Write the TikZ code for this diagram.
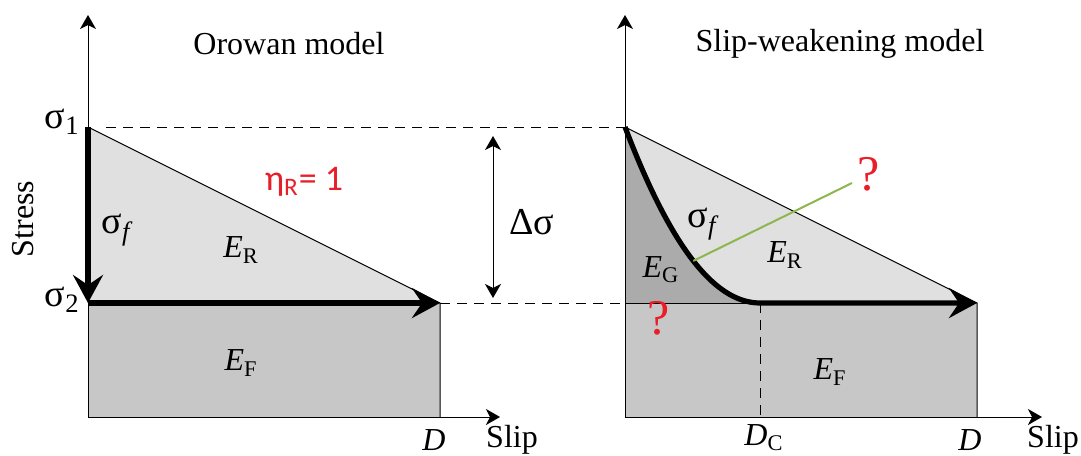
\documentclass[tikz,border=0pt]{standalone}
\usepackage{fontspec}
\setmainfont{Liberation Serif}
\newfontfamily\calibri{Carlito}
\usetikzlibrary{arrows.meta,calc}
\tikzset{>=latex}
\definecolor{markred}{RGB}{232,30,40}
\definecolor{probegreen}{RGB}{141,182,78}

\begin{document}
\begin{tikzpicture}[x=0.5pt,y=-0.5pt,
  txt/.style={font=\fontsize{16}{18}\selectfont,inner sep=0pt},
  sig/.style={font=\fontsize{19}{21}\selectfont,inner sep=0pt},
  qmark/.style={font=\fontsize{25}{27}\selectfont,text=markred,inner sep=0pt},
  axis/.style={line width=0.5pt,-{Stealth[length=7pt,width=8pt,inset=2pt]}},
  slippath/.style={line width=2.6pt,-{Stealth[length=14pt,width=15pt,inset=5pt]}},
  guide/.style={line width=0.5pt,dash pattern=on 5pt off 3.5pt},
  lightfill/.style={fill=black!12},
  darkfill/.style={fill=black!22},
  gfill/.style={fill=black!33}]
  \useasboundingbox (0,0) rectangle (1081,455);
  %
  % Orowan model
  \coordinate (LO) at (88,417);
  \coordinate (LS1) at (88,127);
  \coordinate (LS2) at (88,303);
  \coordinate (LD) at (440,303);
  \coordinate (LDb) at (440,417);
  \fill[lightfill] (LS1) -- (LS2) -- (LD) -- cycle;
  \fill[darkfill] (LS2) rectangle (LDb);
  \draw[line width=0.5pt] (LS1) -- (LD) -- (LDb);
  \draw[axis] (LO) -- (88,15) coordinate (LYtop);
  \draw[axis] (LO) -- (500,417) coordinate (LXend);
  \draw[slippath] (LS1) -- (LS2);
  \draw[slippath] (LS2) -- (LD);
  %
  % Slip-weakening model
  \coordinate (RO) at (625,417);
  \coordinate (RS1) at (625,127);
  \coordinate (RS2) at (625,303);
  \coordinate (RDc) at (760,303);
  \coordinate (RDcb) at (760,417);
  \coordinate (RD) at (977,303);
  \coordinate (RDb) at (977,417);
  \fill[lightfill] (RS1) -- (RS2) -- (RD) -- cycle;
  \fill[darkfill] (RS2) rectangle (RDb);
  \fill[gfill] (RS1) .. controls (668,240) and (712,303) .. (RDc) -- (RS2) -- cycle;
  \draw[line width=0.5pt] (RS1) -- (RD) -- (RDb);
  \draw[line width=0.5pt] (RS2) -- (RDc);
  \draw[guide] (RDc) -- (RDcb);
  \draw[axis] (RO) -- (625,15) coordinate (RYtop);
  \draw[axis] (RO) -- (1042,417) coordinate (RXend);
  \draw[slippath] (RS1) .. controls (668,240) and (712,303) .. coordinate[pos=0.52] (GS) (RDc) -- (RD);
  \draw[probegreen,line width=1pt] (GS) -- (852,183) coordinate (GE);
  %
  % levels
  \draw[guide] ($(LS1)+(18,0)$) -- (RS1);
  \draw[guide] (LD) -- (RS2);
  \draw[line width=0.5pt,{Stealth[length=7pt,width=8pt,inset=2pt]}-{Stealth[length=7pt,width=8pt,inset=2pt]}] (493,136) coordinate (DSa) -- (493,298) coordinate (DSb);
  %
  % labels
  \node[txt] (ortitle) at (289,44) {Orowan model};
  \node[txt] (swtitle) at (840,44) {Slip-weakening model};
  \node[txt,rotate=90] (stress) at (23,219) {Stress};
  \node[sig,anchor=east] (sig1) at (80,122) {σ\textsubscript{1}};
  \node[sig,anchor=east] (sig2) at (80,300) {σ\textsubscript{2}};
  \node[sig] (sigfL) at (116,230) {σ\textsubscript{\itshape f}};
  \node[sig] (sigfR) at (702,224) {σ\textsubscript{\itshape f}};
  \node[txt] (ERL) at (241,250) {\textit{E}\textsubscript{R}};
  \node[txt] (EFL) at (241,363) {\textit{E}\textsubscript{F}};
  \node[txt] (EG) at (661,270) {\textit{E}\textsubscript{G}};
  \node[txt] (ERR) at (785,255) {\textit{E}\textsubscript{R}};
  \node[txt] (EFR) at (830,372) {\textit{E}\textsubscript{F}};
  \node[font=\calibri\fontsize{18}{20}\selectfont,text=markred,inner sep=0pt] (eta) at (304,182) {η\textsubscript{R}= 1};
  \node[sig] (dsig) at (532,222) {Δσ};
  \node[txt] (DL) at (434,440) {\textit{D}};
  \node[txt] (slipL) at (512,440) {Slip};
  \node[txt] (DC) at (764,438) {\textit{D}\textsubscript{C}};
  \node[txt] (DR) at (970,440) {\textit{D}};
  \node[txt] (slipR) at (1053,440) {Slip};
  \node[qmark] (q1) at (869,174) {?};
  \node[qmark] (q2) at (659,318) {?};
\end{tikzpicture}
\end{document}
